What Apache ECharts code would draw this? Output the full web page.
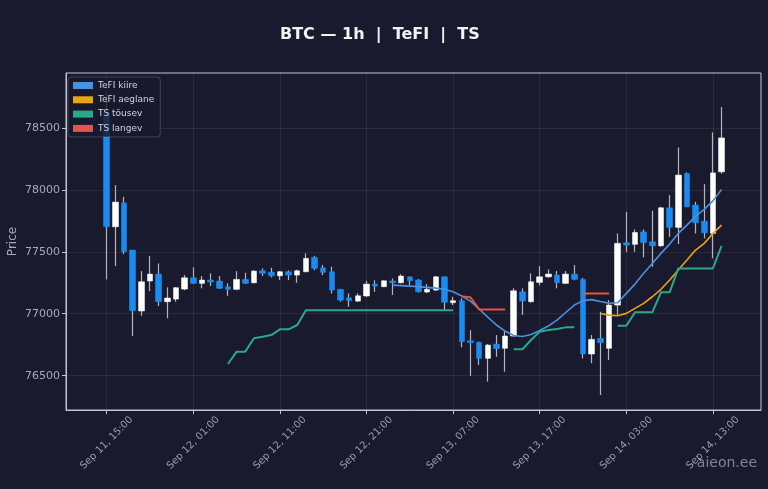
<!DOCTYPE html>
<html>
<head>
<meta charset="utf-8">
<script src="https://cdn.jsdelivr.net/npm/echarts@6/dist/echarts.min.js"></script>
<style>
  html, body { margin: 0; padding: 0; background: #1a1a2e; }
  #chart { width: 768px; height: 489px; }
</style>
</head>
<body>
<div id="chart"></div>
<script>
// hourly candles, Sep 11 15:00 .. Sep 14 14:00 (index = hours from first candle)
const opens = [78620, 77702, 77895, 77514, 77022, 77264, 77320, 77097, 77118, 77199,
  77290, 77245, 77272, 77264, 77218, 77197, 77277, 77250, 77347, 77336,
  77306, 77339, 77312, 77339, 77455, 77371, 77339, 77197, 77129, 77102,
  77143, 77239, 77218, 77264, 77250, 77298, 77272, 77175, 77191, 77298,
  77089, 77105, 76782, 76769, 76640, 76755, 76721, 76820, 77177, 77097,
  77253, 77298, 77312, 77245, 77320, 77277, 76675, 76801, 76721, 77070,
  77573, 77560, 77661, 77581, 77548, 77855, 77697, 78132, 77877, 77747,
  77648, 78145]
const highs = [78780, 78038, 77944, 77514, 77344, 77465, 77406, 77213, 77215, 77312,
  77374, 77304, 77326, 77304, 77245, 77344, 77331, 77352, 77366, 77371,
  77345, 77350, 77355, 77487, 77468, 77393, 77379, 77200, 77164, 77164,
  77266, 77270, 77270, 77285, 77318, 77300, 77280, 77239, 77306, 77300,
  77137, 77124, 76868, 76775, 76755, 76828, 76868, 77205, 77205, 77326,
  77385, 77358, 77345, 77345, 77393, 77290, 76828, 77016, 77110, 77648,
  77823, 77680, 77680, 77831, 77863, 77957, 78342, 78140, 77903, 78046,
  78463, 78669]
const lows = [77277, 77385, 77481, 76820, 76984, 77183, 77062, 76963, 77097, 77190,
  77240, 77205, 77223, 77200, 77145, 77190, 77240, 77245, 77304, 77293,
  77272, 77272, 77250, 77335, 77352, 77312, 77164, 77097, 77056, 77095,
  77135, 77177, 77215, 77151, 77245, 77230, 77170, 77165, 77185, 77030,
  77070, 76729, 76498, 76586, 76452, 76653, 76532, 76815, 76990, 77090,
  77228, 77290, 77205, 77240, 77270, 76640, 76600, 76344, 76627, 76990,
  77500, 77500, 77455, 77379, 77540, 77621, 77562, 77860, 77648, 77608,
  77447, 78130]
const closes = [77702, 77901, 77500, 77024, 77258, 77320, 77097, 77127, 77210, 77290,
  77245, 77272, 77256, 77205, 77197, 77277, 77245, 77344, 77326, 77306,
  77339, 77312, 77347, 77447, 77366, 77334, 77191, 77110, 77105, 77145,
  77239, 77223, 77266, 77250, 77304, 77266, 77177, 77197, 77298, 77092,
  77105, 76774, 76766, 76640, 76747, 76718, 76820, 77185, 77102, 77258,
  77298, 77320, 77250, 77320, 77277, 76675, 76793, 76766, 77070, 77568,
  77554, 77656, 77573, 77548, 77855, 77697, 78119, 77863, 77734, 77653,
  78137, 78419]

const _ = null
// TeFI kiire (fast) from idx 33, TeFI aeglane (slow) from idx 57
const tefiFast = [_, _, _, _, _, _, _, _, _, _,
  _, _, _, _, _, _, _, _, _, _,
  _, _, _, _, _, _, _, _, _, _,
  _, _, _, 77231, 77227, 77223, 77219, 77213, 77207, 77197,
  77177, 77143, 77102, 77038, 76973, 76909, 76860, 76824, 76816, 76832,
  76864, 76901, 76949, 77010, 77070, 77106, 77114, 77098, 77084, 77089,
  77164, 77239, 77326, 77406, 77487, 77562, 77648, 77715, 77788, 77842,
  77911, 78003]
const tefiSlow = [_, _, _, _, _, _, _, _, _, _,
  _, _, _, _, _, _, _, _, _, _,
  _, _, _, _, _, _, _, _, _, _,
  _, _, _, _, _, _, _, _, _, _,
  _, _, _, _, _, _, _, _, _, _,
  _, _, _, _, _, _, _, 77002, 76989, 76984,
  77003, 77043, 77084, 77137, 77197, 77272, 77353, 77433, 77514, 77568,
  77648, 77715]
const tsUp = [_, _, _, _, _, _, _, _, _, _,
  _, _, _, _, 76594, 76694, 76694, 76802, 76814, 76828,
  76874, 76874, 76909, 77028, 77028, 77028, 77028, 77028, 77028, 77028,
  77028, 77028, 77028, 77028, 77028, 77028, 77028, 77028, 77028, 77028,
  77028, _, _, _, _, _, _, 76713, 76713, 76788,
  76855, 76869, 76877, 76890, 76890, _, _, _, _, 76903,
  76903, 77011, 77011, 77011, 77173, 77173, 77366, 77366, 77366, 77366,
  77366, 77548]
const tsDown = [_, _, _, _, _, _, _, _, _, _,
  _, _, _, _, _, _, _, _, _, _,
  _, _, _, _, _, _, _, _, _, _,
  _, _, _, _, _, _, _, _, _, _,
  _, 77139, 77133, 77035, 77035, 77035, 77035, _, _, _,
  _, _, _, _, _, 77163, 77163, 77163, 77163, _,
  _, _, _, _, _, _, _, _, _, _,
  _, _]

const tickIdx = [0, 10, 20, 30, 40, 50, 60, 70]
const tickLabels = ['Sep 11, 15:00', 'Sep 12, 01:00', 'Sep 12, 11:00', 'Sep 12, 21:00',
  'Sep 13, 07:00', 'Sep 13, 17:00', 'Sep 14, 03:00', 'Sep 14, 13:00']
const priceTicks = [76500, 77000, 77500, 78000, 78500]

const bg = '#1a1a2e'
const upColor = '#ffffff'
const downColor = '#1a8cf0'
const wickColor = '#b4b4bc'
const frameColor = '#c4c4cc'
const gridColor = 'rgba(255,255,255,0.07)'
const font = 'DejaVu Sans'

// wick series: full range, thin; body series: open/close only so no wick shows
const wickData = opens.map((o, i) => [i, o, closes[i], lows[i], highs[i]])
const bodyData = opens.map((o, i) => [i, o, closes[i], Math.min(o, closes[i]), Math.max(o, closes[i])])
const withIdx = arr => arr.map((v, i) => [i, v])

const lineSeries = (name, data, color, width) => ({
  name: name,
  type: 'line',
  data: withIdx(data),
  showSymbol: false,
  connectNulls: false,
  itemStyle: { color: color },
  lineStyle: { color: color, width: width },
  z: 4
})

const chart = echarts.init(document.getElementById('chart'))

chart.setOption({
  animation: false,
  backgroundColor: bg,
  textStyle: { fontFamily: font },
  title: {
    text: 'BTC — 1h  |  TeFI  |  TS',
    left: 275,
    top: 22,
    textStyle: { color: '#f2f2f2', fontSize: 16, fontWeight: 'bold', fontFamily: font }
  },
  legend: {
    data: ['TeFI kiire', 'TeFI aeglane', 'TS tõusev', 'TS langev'],
    orient: 'vertical',
    left: 68,
    top: 77,
    icon: 'rect',
    itemWidth: 20,
    itemHeight: 7,
    itemGap: 5.3,
    padding: [4, 6, 4, 5],
    backgroundColor: 'rgba(26,26,46,0.82)',
    borderColor: 'rgba(255,255,255,0.18)',
    borderWidth: 1,
    borderRadius: 3,
    textStyle: { color: '#d4d4dc', fontSize: 9, fontFamily: font }
  },
  graphic: [{
    type: 'text',
    right: 11,
    top: 456,
    z: 100,
    style: { text: 'aieon.ee', fontSize: 14, fontFamily: font, fill: 'rgba(200,200,210,0.6)' }
  }],
  grid: {
    left: 66,
    right: 7,
    top: 73,
    bottom: 79,
    outerBoundsMode: 'none',
    containLabel: false,
    show: true,
    borderColor: frameColor,
    borderWidth: 1,
    backgroundColor: bg
  },
  xAxis: {
    type: 'value',
    min: -4.7,
    max: 75.55,
    axisLine: { onZero: false, lineStyle: { color: frameColor } },
    axisTick: { customValues: tickIdx, length: 4, lineStyle: { color: frameColor } },
    axisLabel: {
      customValues: tickIdx,
      formatter: v => tickLabels[tickIdx.indexOf(v)] || '',
      rotate: 45,
      align: 'center',
      verticalAlign: 'middle',
      margin: 33,
      color: '#9c9cae',
      fontSize: 10,
      fontFamily: font
    },
    splitLine: { show: true, lineStyle: { color: gridColor } }
  },
  yAxis: {
    type: 'value',
    min: 76223,
    max: 78943,
    name: 'Price',
    nameLocation: 'middle',
    nameRotate: 90,
    nameGap: 47,
    nameMoveOverlap: false,
    nameTextStyle: { color: '#a8a8b8', fontSize: 12, fontFamily: font },
    axisLine: { show: true, onZero: false, lineStyle: { color: frameColor } },
    axisTick: { show: true, customValues: priceTicks, length: 4, lineStyle: { color: frameColor } },
    axisLabel: {
      customValues: priceTicks,
      formatter: v => String(v),
      color: '#a8a8b8',
      fontSize: 11,
      margin: 6,
      fontFamily: font
    },
    splitLine: { show: true, lineStyle: { color: gridColor } }
  },
  series: [
    {
      name: 'wicks',
      type: 'candlestick',
      data: wickData,
      dimensions: ['t', 'open', 'close', 'lowest', 'highest'],
      encode: { x: 't', y: ['open', 'close', 'lowest', 'highest'] },
      barWidth: 1,
      itemStyle: { color: wickColor, color0: wickColor, borderColor: wickColor, borderColor0: wickColor, borderWidth: 1.2 },
      z: 2
    },
    {
      name: 'candles',
      type: 'candlestick',
      data: bodyData,
      dimensions: ['t', 'open', 'close', 'lowest', 'highest'],
      encode: { x: 't', y: ['open', 'close', 'lowest', 'highest'] },
      barWidth: 6,
      itemStyle: { color: upColor, color0: downColor, borderColor: upColor, borderColor0: downColor, borderWidth: 0.5 },
      z: 3
    },
    lineSeries('TeFI kiire', tefiFast, '#4a92e0', 1.6),
    lineSeries('TeFI aeglane', tefiSlow, '#eaa612', 1.6),
    lineSeries('TS tõusev', tsUp, '#2aa889', 2),
    lineSeries('TS langev', tsDown, '#e4544f', 2)
  ]
})
</script>
</body>
</html>
